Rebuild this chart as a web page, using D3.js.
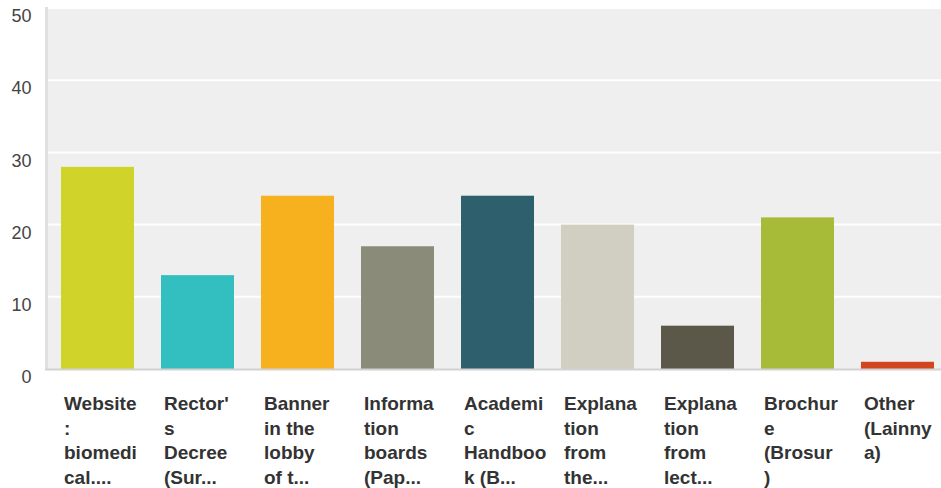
<!DOCTYPE html>
<html><head><meta charset="utf-8">
<script src="https://cdn.jsdelivr.net/npm/d3@7/dist/d3.min.js"></script>
<style>html,body{margin:0;padding:0;background:#fff;}svg{display:block;}</style>
</head><body>
<svg id="c" width="941" height="488"></svg>
<script>
const categories = [
  ["Website", ":", "biomedi", "cal...."],
  ["Rector'", "s", "Decree", "(Sur..."],
  ["Banner", "in the", "lobby", "of t..."],
  ["Informa", "tion", "boards", "(Pap..."],
  ["Academi", "c", "Handboo", "k (B..."],
  ["Explana", "tion", "from", "the..."],
  ["Explana", "tion", "from", "lect..."],
  ["Brochur", "e", "(Brosur", ")"],
  ["Other", "(Lainny", "a)"]
];
const values = [28, 13, 24, 17, 24, 20, 6, 21, 1];
const colors = ["#d0d32a", "#33bec0", "#f7b01e", "#8a8b79", "#2e5f6c", "#d1cfc1", "#5b5849", "#a8bb39", "#d2461f"];
const yTicks = [0, 10, 20, 30, 40, 50];

(function () {
const svg = d3.select("#c");
const pl = 47.5, pt = 8, pb = 369, pr = 941;
const x = d3.scaleBand().domain(d3.range(values.length)).range([pl, pl + 900]).paddingInner(0.27).paddingOuter(0.135);
const y = d3.scaleLinear().domain([0, 50]).range([pb, pt]);

svg.append("rect").attr("x", pl).attr("y", pt - 1).attr("width", pr - pl).attr("height", pb - pt + 1).attr("fill", "#efefef");

svg.append("g").selectAll("line").data(yTicks.filter(d => d > 0)).join("line")
  .attr("x1", pl).attr("x2", pr).attr("y1", d => y(d)).attr("y2", d => y(d))
  .attr("stroke", "#fff").attr("stroke-width", 2);

svg.append("g").selectAll("rect").data(values).join("rect")
  .attr("x", (d, i) => x(i)).attr("width", x.bandwidth())
  .attr("y", d => y(d)).attr("height", d => y(0) - y(d))
  .attr("fill", (d, i) => colors[i]);

svg.append("rect").attr("x", 45).attr("y", pt - 1).attr("width", 3).attr("height", pb - pt + 2).attr("fill", "#e0e0e0");
svg.append("rect").attr("x", 45).attr("y", pb - 0.5).attr("width", pr - 45).attr("height", 2).attr("fill", "#d2d2d2");

const yAxis = d3.axisLeft(y).tickValues(yTicks).tickSize(0).tickPadding(0);
const gy = svg.append("g").attr("transform", "translate(31.5,8)").call(yAxis);
gy.select(".domain").remove();
gy.selectAll("text").attr("font-family", "Liberation Sans, Arial, sans-serif").attr("font-size", 18).attr("fill", "#444");

const gx = svg.append("g");
categories.forEach((lines, i) => {
  const t = gx.append("text")
    .attr("font-family", "Liberation Sans, Arial, sans-serif").attr("font-weight", "bold")
    .attr("font-size", 19).attr("fill", "#333");
  lines.forEach((l, j) => t.append("tspan").attr("x", x(i) + 3).attr("y", 410 + j * 24.7).text(l));
});
})();
</script>
</body></html>
